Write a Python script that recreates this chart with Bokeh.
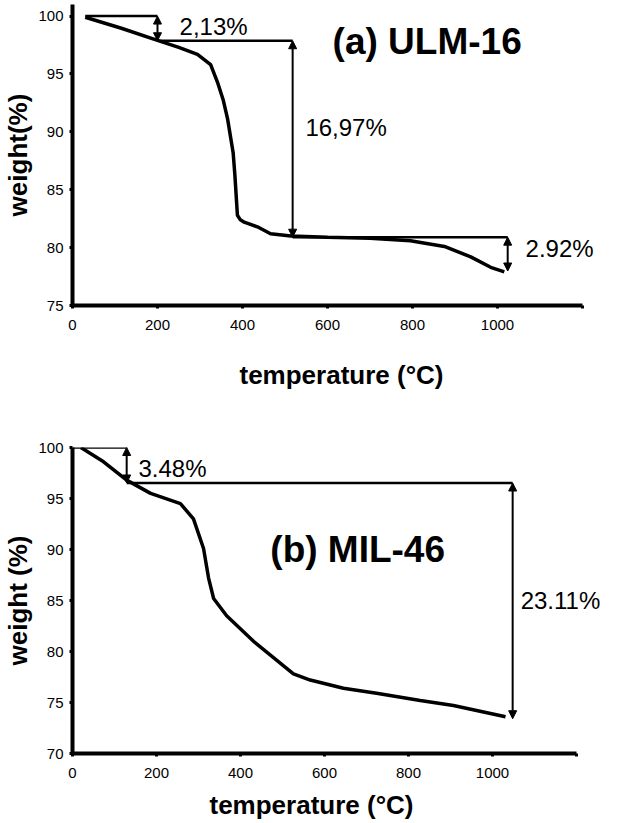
from bokeh.plotting import figure
from bokeh.layouts import column
from bokeh.models import Arrow, NormalHead, Label, ColumnDataSource, FixedTicker, Title
from bokeh.embed import file_html
from bokeh.resources import INLINE

FONT = "Liberation Sans"

# ---------------- data: (a) ULM-16 ----------------
a_temp = [30, 115, 200, 250, 294, 325, 341, 355, 365, 378, 382, 388, 395, 404, 435, 466,
          514, 600, 700, 795, 875, 937, 984, 1016]
a_weight = [99.9, 98.95, 97.9, 97.3, 96.7, 95.8, 94.3, 92.7, 91.1, 88.2, 86.3, 82.8, 82.4,
            82.2, 81.8, 81.2, 81.0, 80.9, 80.8, 80.6, 80.1, 79.2, 78.3, 77.9]
a_hline_x0 = [30, 200, 518]
a_hline_x1 = [200, 518, 1024]
a_hline_y = [100.0, 97.87, 80.90]
a_arrow_x = [200, 518, 1024]
a_arrow_top = [100.0, 97.87, 80.90]
a_arrow_bottom = [97.87, 80.90, 77.98]
a_label_text = ["2,13%", "16,97%", "2.92%"]
a_label_x = [252, 548, 1066]
a_label_y = [99.1, 90.4, 79.9]
a_title = ["(a) ULM-16"]
a_title_x = [612]
a_title_y = [97.8]

# ---------------- data: (b) MIL-46 ----------------
b_temp = [20, 74, 129, 186, 257, 288, 312, 324, 336, 367, 431, 526, 566, 645, 724, 828,
          907, 1031]
b_weight = [100.0, 98.6, 96.8, 95.5, 94.5, 93.0, 90.1, 87.2, 85.2, 83.5, 81.0, 77.8, 77.2,
            76.4, 75.9, 75.2, 74.7, 73.6]
b_hline_x0 = [0, 129]
b_hline_x1 = [129, 1048]
b_hline_y = [100.0, 96.52]
b_arrow_x = [129, 1048]
b_arrow_top = [100.0, 96.52]
b_arrow_bottom = [96.52, 73.41]
b_label_text = ["3.48%", "23.11%"]
b_label_x = [157, 1067]
b_label_y = [97.9, 85.0]
b_title = ["(b) MIL-46"]
b_title_x = [471]
b_title_y = [90.0]

x_ticks = [0, 200, 400, 600, 800, 1000, 1200]
a_y_ticks = [75, 80, 85, 90, 95, 100]
b_y_ticks = [70, 75, 80, 85, 90, 95, 100]
X_LABEL = "temperature (°C)"


def style(p, yticks, ylabel):
    p.xaxis.ticker = FixedTicker(ticks=x_ticks)
    p.xaxis.major_label_overrides = {1200: ""}
    p.xaxis.bounds = (0, 1200)
    p.yaxis.ticker = FixedTicker(ticks=yticks)
    p.grid.visible = False
    p.outline_line_color = None
    for ax in (p.xaxis[0], p.yaxis[0]):
        ax.axis_line_width = 4
        ax.axis_line_color = "black"
        ax.major_tick_line_width = 3
        ax.major_tick_out = 3
        ax.major_tick_in = 0
        ax.minor_tick_line_color = None
        ax.major_label_text_font = FONT
        ax.major_label_text_font_size = "15px"
        ax.major_label_text_color = "black"
        ax.axis_label_text_font = FONT
        ax.axis_label_text_font_size = "26px"
        ax.axis_label_text_font_style = "bold"
        ax.axis_label_text_color = "black"
    p.xaxis.major_label_standoff = 11
    p.yaxis.axis_label = ylabel
    p.yaxis.major_label_standoff = 6
    p.yaxis.axis_label_standoff = 2


def annotate(p, temp, weight, hx0, hx1, hy, ax_, atop, abot, lt, lx, ly, tt, tx, ty):
    p.line(temp, weight, line_color="black", line_width=3.5)
    p.segment(x0=hx0, y0=hy, x1=hx1, y1=hy, line_color="black", line_width=2.5)
    src = ColumnDataSource(dict(x=ax_, y0=atop, y1=abot))
    p.add_layout(Arrow(source=src, x_start="x", y_start="y0", x_end="x", y_end="y1",
                       line_width=2, line_color="black",
                       start=NormalHead(size=8, fill_color="black", line_color="black"),
                       end=NormalHead(size=8, fill_color="black", line_color="black")))
    for t, x, y in zip(lt, lx, ly):
        p.add_layout(Label(x=x, y=y, text=t, text_font=FONT, text_font_size="24px",
                           text_color="black", text_align="left", text_baseline="middle"))
    for t, x, y in zip(tt, tx, ty):
        p.add_layout(Label(x=x, y=y, text=t, text_font=FONT, text_font_size="37px",
                           text_font_style="bold", text_color="black",
                           text_align="left", text_baseline="middle"))


p1 = figure(frame_width=540, frame_height=301, x_range=(0, 1270.6), y_range=(75, 101),
            output_backend="svg", toolbar_location=None,
            min_border_left=67, min_border_right=0, min_border_top=4, min_border_bottom=107)
style(p1, a_y_ticks, "weight(%)")
p1.add_layout(Title(text=X_LABEL, align="left", offset=167, standoff=50, text_font=FONT,
                    text_font_size="26px", text_font_style="bold", text_color="black"),
              "below")
annotate(p1, a_temp, a_weight, a_hline_x0, a_hline_x1, a_hline_y, a_arrow_x, a_arrow_top,
         a_arrow_bottom, a_label_text, a_label_x, a_label_y, a_title, a_title_x, a_title_y)

p2 = figure(frame_width=536, frame_height=306, x_range=(0, 1276.2), y_range=(70, 100),
            output_backend="svg", toolbar_location=None,
            min_border_left=71, min_border_right=0, min_border_top=33, min_border_bottom=60)
style(p2, b_y_ticks, "weight (%)")
p2.add_layout(Title(text=X_LABEL, align="left", offset=137, standoff=14, text_font=FONT,
                    text_font_size="26px", text_font_style="bold", text_color="black"),
              "below")
annotate(p2, b_temp, b_weight, b_hline_x0, b_hline_x1, b_hline_y, b_arrow_x, b_arrow_top,
         b_arrow_bottom, b_label_text, b_label_x, b_label_y, b_title, b_title_x, b_title_y)

layout = column(p1, p2, spacing=0)
open("out.html", "w").write(file_html(layout, INLINE))
